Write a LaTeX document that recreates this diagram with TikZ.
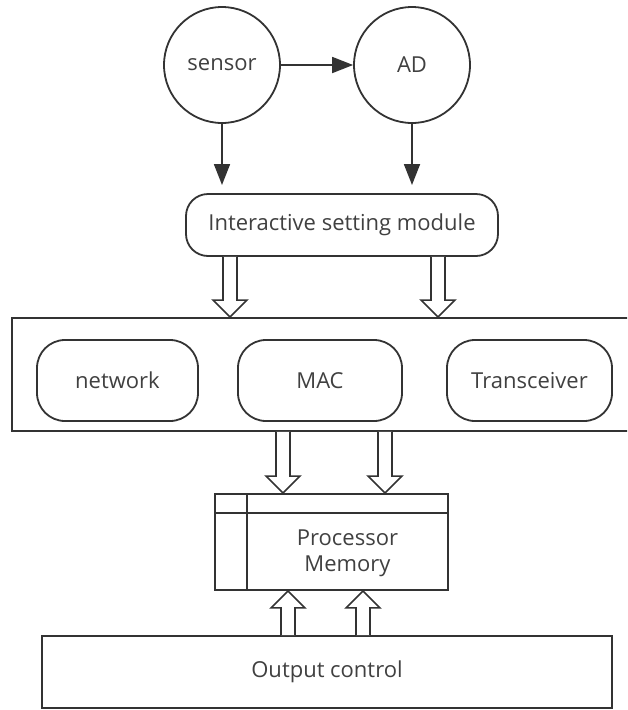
\documentclass[tikz,border=0pt]{standalone}
\usepackage{fontspec}
\setmainfont{Open Sans}
\usetikzlibrary{arrows.meta,calc}
\definecolor{ink}{HTML}{333333}
\definecolor{txt}{HTML}{404040}

% hollow block arrow from coordinate #1 to coordinate #2 (vertical)
\newcommand\hollowdown[2]{%
  \draw[blockarrow] let \p1=(#1), \p2=(#2) in
    (\x1-7pt,\y1) -- (\x1-7pt,\y2+17pt) -- (\x1-17pt,\y2+17pt) -- (\x1,\y2)
    -- (\x1+17pt,\y2+17pt) -- (\x1+7pt,\y2+17pt) -- (\x1+7pt,\y1);}
\newcommand\hollowup[2]{%
  \draw[blockarrow] let \p1=(#1), \p2=(#2) in
    (\x1-7pt,\y1) -- (\x1-7pt,\y2-17pt) -- (\x1-17pt,\y2-17pt) -- (\x1,\y2)
    -- (\x1+17pt,\y2-17pt) -- (\x1+7pt,\y2-17pt) -- (\x1+7pt,\y1);}

\begin{document}
\begin{tikzpicture}[x=1pt,y=-1pt,
  line width=1.8pt,
  every node/.style={text=txt,font=\fontsize{22}{27}\selectfont},
  circ/.style={draw=ink,circle,minimum size=116pt,inner sep=0pt},
  rbox/.style={draw=ink,rounded corners=28pt,inner sep=0pt},
  sbox/.style={draw=ink,inner sep=0pt},
  flow/.style={draw=ink,-{Triangle[length=21pt,width=16pt]}},
  blockarrow/.style={draw=ink,fill=white,line width=1.6pt}]
\useasboundingbox (0,0) rectangle (627,710);
\clip (0,0) rectangle (627,710);

% top row
\node[circ] (sensor) at (222,65) {sensor};
\node[circ] (ad) at (412,65) {AD};
\node[rbox,rounded corners=22pt,minimum width=312pt,minimum height=62pt] (ism) at (342,225) {Interactive setting module};

\draw[flow] (sensor) -- (ad);
\coordinate (s1) at (222,185);
\coordinate (s2) at (412,185);
\draw[flow] (sensor) -- (s1);
\draw[flow] (ad) -- (s2);

% communication layer
\node[sbox,minimum width=640pt,minimum height=113pt] (bus) at (332,374.5) {};
\node[rbox,minimum width=161pt,minimum height=81pt] (net) at (117.5,380.5) {network};
\node[rbox,minimum width=164pt,minimum height=81pt] (mac) at (320,380.5) {MAC};
\node[rbox,minimum width=165pt,minimum height=81pt] (trx) at (529.5,380.5) {Transceiver};

% processor and memory
\node[sbox,minimum width=233pt,minimum height=96pt] (proc) at (331.5,542) {};
\draw[ink] (proc.west |- 0,513) -- (proc.east |- 0,513);
\draw[ink] (247,0 |- proc.north) -- (247,0 |- proc.south);
\node[align=center,font=\fontsize{22}{26}\selectfont] (pm) at (347.5,553) {Processor\\Memory};

% output
\node[sbox,minimum width=570pt,minimum height=72pt] (outc) at (327,672) {Output control};

% block arrows
\coordinate (a1) at (230,0 |- ism.south);  \coordinate (b1) at (230,0 |- bus.north);
\coordinate (a2) at (438,0 |- ism.south);  \coordinate (b2) at (438,0 |- bus.north);
\hollowdown{a1}{b1}
\hollowdown{a2}{b2}
\coordinate (c1) at (283,0 |- bus.south);  \coordinate (d1) at (283,0 |- proc.north);
\coordinate (c2) at (385,0 |- bus.south);  \coordinate (d2) at (385,0 |- proc.north);
\hollowdown{c1}{d1}
\hollowdown{c2}{d2}
\coordinate (e1) at (288,0 |- outc.north); \coordinate (f1) at (288,0 |- proc.south);
\coordinate (e2) at (363,0 |- outc.north); \coordinate (f2) at (363,0 |- proc.south);
\hollowup{e1}{f1}
\hollowup{e2}{f2}
\end{tikzpicture}
\end{document}
